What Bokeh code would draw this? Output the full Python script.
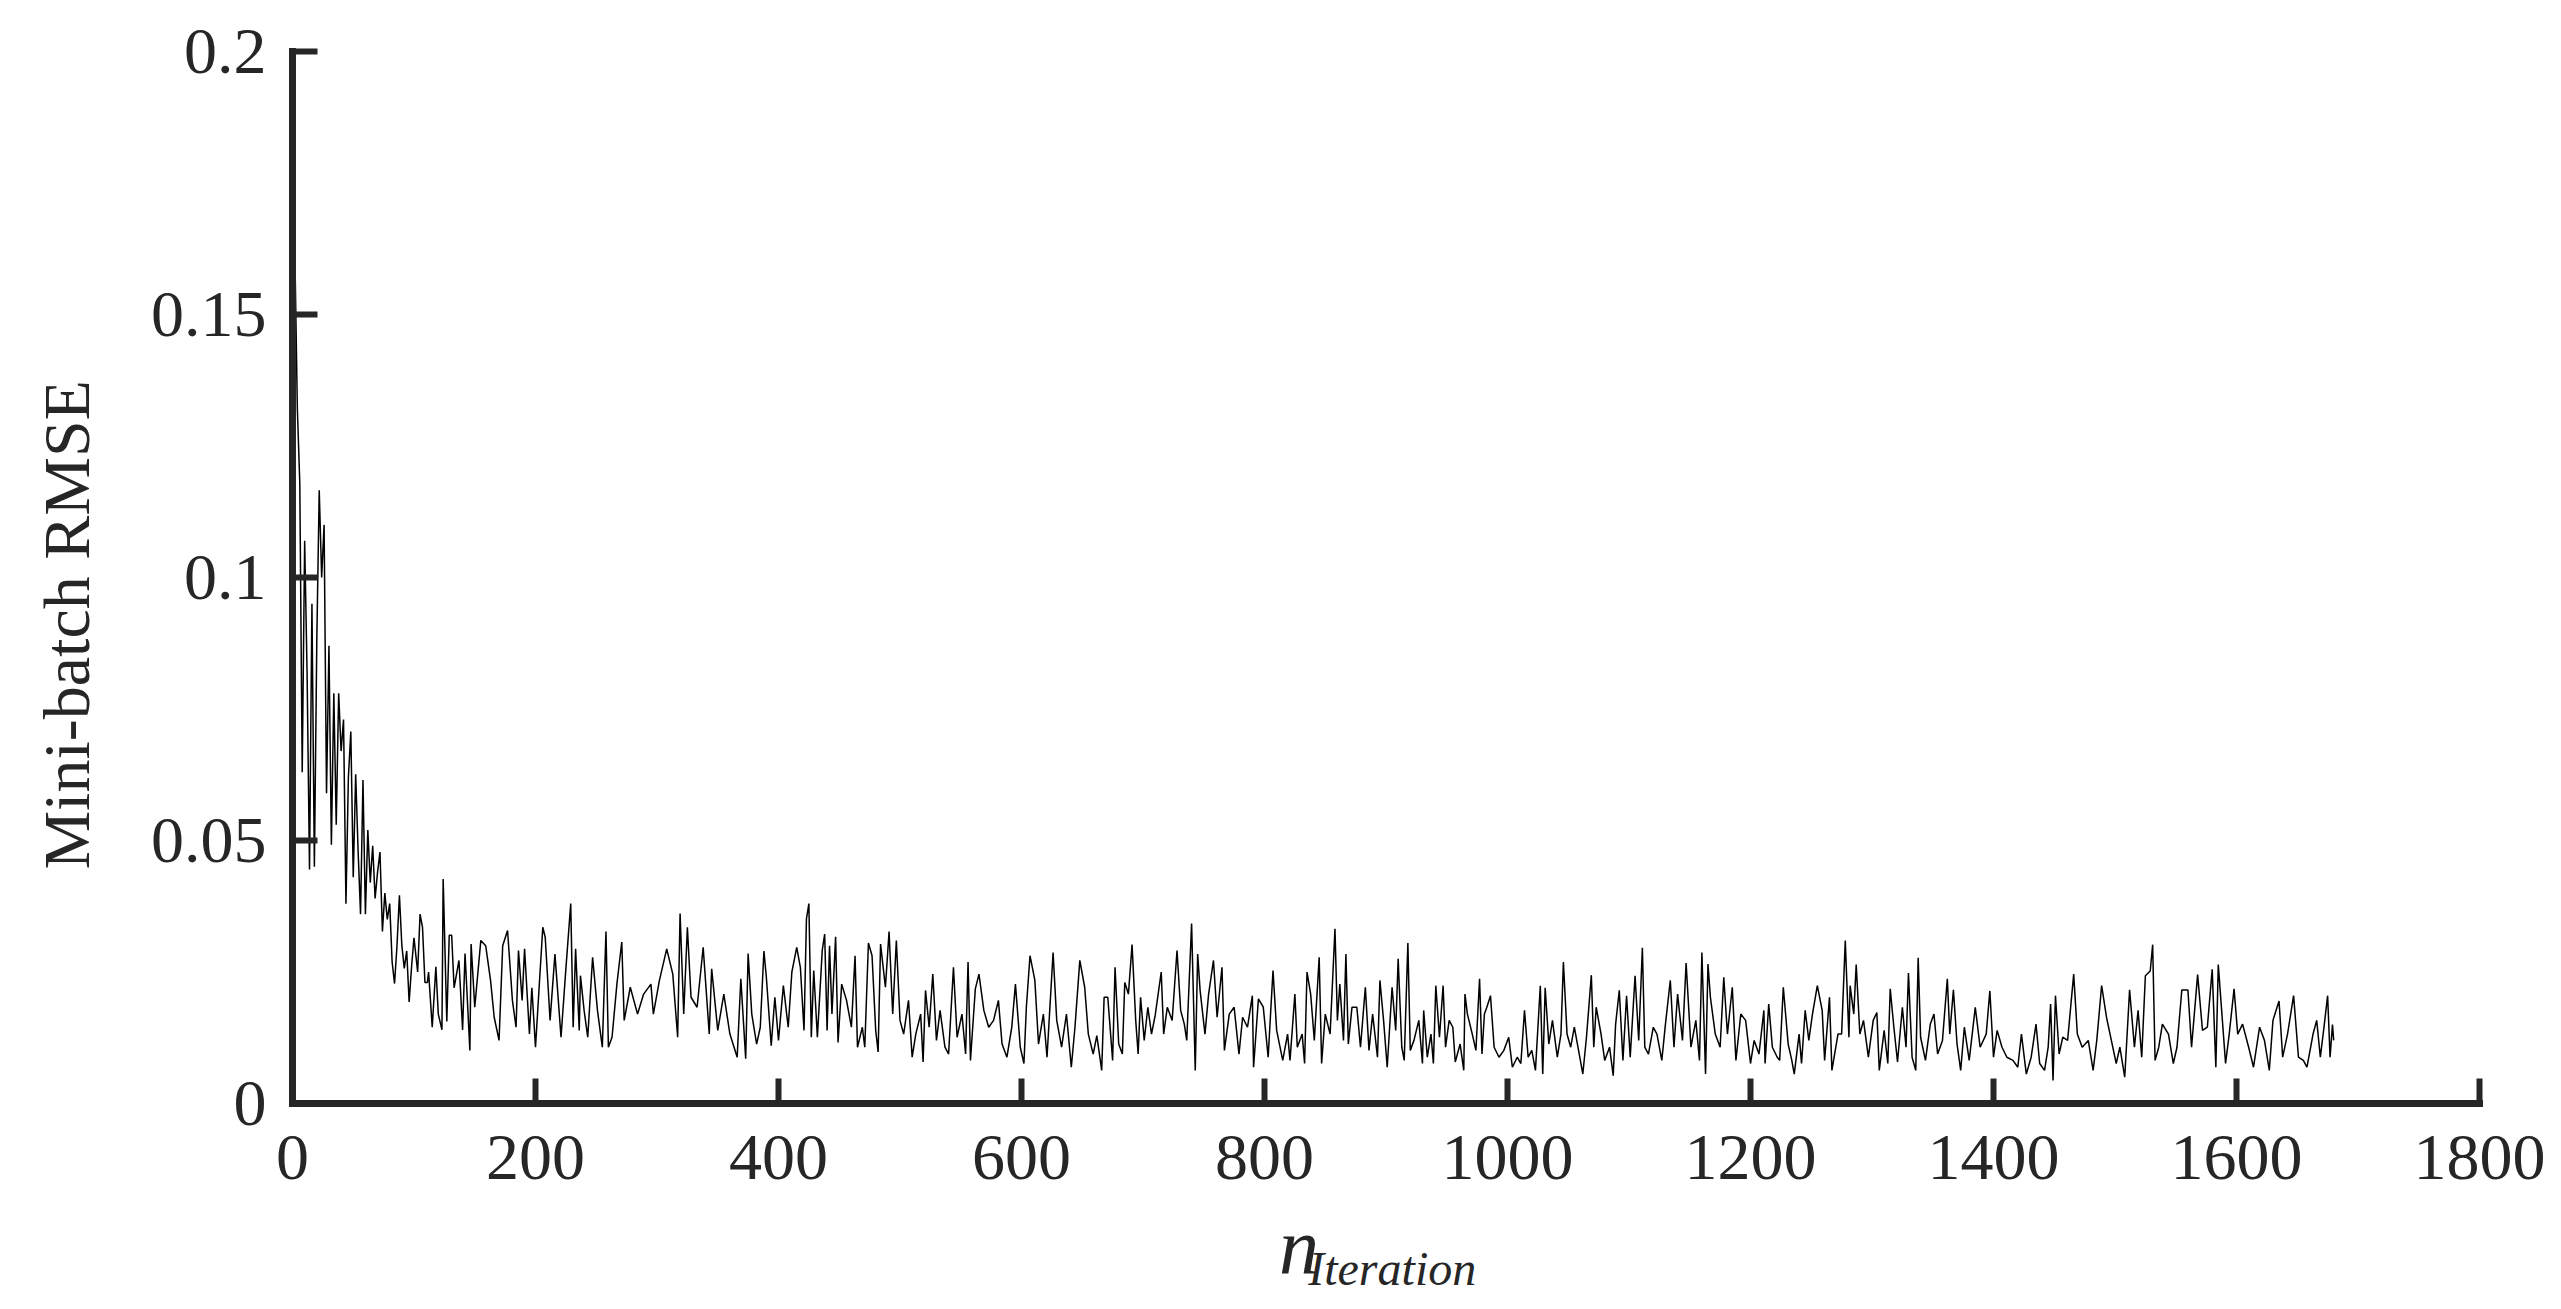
import math
from bokeh.plotting import figure
from bokeh.models import Range1d, FixedTicker, CustomJSTickFormatter, Label, ColumnDataSource
from bokeh.embed import file_html
from bokeh.resources import INLINE

# ---- data: mini-batch RMSE (values in units of 1e-4) ----
iter_a = [0, 2, 4, 6, 8, 10, 12, 14, 16, 18, 20, 22, 24, 26, 28, 30, 32, 34, 36, 38,
          40, 42, 44, 46, 48, 50, 52, 54, 56, 58, 60, 62, 64, 66, 68, 70, 72, 74, 76, 78,
          80, 82, 84, 86, 88, 90, 92, 94, 96, 98]
rmse_a = [1930, 1610, 1320, 1180, 630, 1070, 820, 445, 950, 450, 880, 1166, 1000, 1100, 590, 870, 492, 780, 530, 780,
          670, 730, 380, 620, 707, 430, 626, 480, 360, 615, 360, 520, 420, 490, 390, 440, 478, 327, 400, 350,
          380, 269, 228, 300, 396, 300, 257, 290, 193, 260]

iter_b = [100, 103, 105, 107, 109, 111, 112, 115, 118, 120, 123, 124, 127, 129, 131, 133, 137, 140, 142, 146,
          147, 150, 155, 159, 163, 166, 170, 173, 177, 181, 184, 186, 189, 191, 195, 197, 200, 206, 208, 212,
          216, 221, 225, 229, 231, 233, 236, 237, 240, 243, 247, 251, 255, 258, 260, 263, 267, 271, 273, 278,
          284, 289, 295, 297, 302, 308, 313, 317, 319, 322, 325, 328, 333, 338, 343, 345, 350, 355, 360, 366,
          369, 373, 375, 378, 382, 385]
rmse_b = [315, 250, 360, 335, 230, 230, 250, 145, 260, 170, 140, 427, 156, 320, 320, 220, 272, 140, 285, 101,
          303, 183, 310, 300, 234, 164, 120, 300, 329, 196, 145, 291, 196, 294, 132, 220, 107, 335, 316, 158,
          284, 126, 256, 380, 145, 294, 139, 243, 177, 126, 278, 177, 107, 327, 107, 126, 227, 307, 158, 221,
          170, 208, 227, 170, 234, 294, 246, 126, 361, 170, 335, 202, 183, 297, 132, 256, 139, 208, 132, 88,
          237, 85, 285, 170, 113, 145]

iter_c = [388, 390, 394, 397, 400, 404, 408, 411, 415, 418, 421, 423, 425, 427, 429, 432, 436, 438, 440, 442,
          444, 447, 449, 452, 456, 460, 463, 465, 469, 471, 474, 477, 480, 482, 484, 488, 491, 494, 497, 500,
          503, 507, 510, 513, 517, 519, 521, 524, 527, 530, 533, 537, 540, 544, 547, 551, 554, 556, 558, 562,
          565, 569, 573, 577, 581, 584, 588, 592, 595, 599, 602, 604, 607, 611, 614, 618, 621, 626, 629, 633,
          637, 641, 644, 648, 652, 655, 659, 662]
rmse_c = [290, 240, 110, 202, 120, 224, 145, 250, 297, 259, 139, 351, 380, 126, 253, 126, 291, 322, 139, 300,
          170, 317, 116, 227, 196, 145, 281, 107, 145, 107, 305, 281, 139, 98, 303, 221, 327, 170, 310, 158,
          132, 196, 88, 132, 170, 79, 215, 145, 246, 120, 177, 107, 94, 259, 126, 170, 94, 269, 82, 218,
          246, 177, 145, 158, 196, 113, 88, 145, 227, 107, 76, 183, 281, 234, 113, 170, 88, 287, 158, 107,
          170, 69, 145, 272, 221, 132, 94, 129]

iter_d = [666, 668, 671, 675, 677, 680, 683, 685, 688, 691, 694, 696, 698, 701, 704, 707, 710, 715, 717, 720,
          724, 728, 731, 734, 736, 740, 743, 745, 747, 751, 754, 758, 761, 765, 767, 771, 775, 779, 782, 786,
          790, 791, 795, 799, 803, 807, 810, 815, 819, 821, 825, 827, 831, 833, 835, 838, 841, 845, 847, 850,
          854, 858, 860, 862, 865, 867, 869, 872, 876, 879, 883, 886, 889, 893, 895, 898, 901, 905, 908, 910,
          913, 915, 918, 920, 923, 927, 930, 931, 934, 937, 939, 941, 944]
rmse_d = [63, 202, 202, 82, 259, 113, 94, 230, 208, 302, 158, 94, 202, 120, 183, 132, 167, 250, 132, 183,
          158, 291, 177, 151, 120, 342, 63, 284, 215, 132, 208, 272, 164, 259, 101, 170, 183, 94, 164, 145,
          205, 69, 199, 183, 88, 253, 139, 82, 132, 82, 208, 107, 132, 76, 250, 208, 120, 278, 76, 170,
          132, 332, 158, 227, 120, 284, 113, 183, 183, 107, 221, 101, 170, 88, 234, 158, 69, 221, 139, 275,
          107, 82, 305, 101, 120, 158, 76, 177, 88, 132, 76, 224, 126]

iter_e = [947, 949, 952, 955, 957, 961, 964, 965, 967, 971, 974, 977, 979, 981, 983, 986, 989, 993, 997, 1001,
          1004, 1008, 1011, 1014, 1017, 1020, 1023, 1027, 1029, 1031, 1034, 1037, 1041, 1044, 1046, 1049, 1052, 1055, 1058, 1062,
          1065, 1069, 1071, 1073, 1077, 1080, 1084, 1087, 1089, 1092, 1095, 1098, 1101, 1105, 1108, 1111, 1113, 1116, 1120, 1123,
          1127, 1130, 1134, 1137, 1140, 1144, 1147, 1151, 1155, 1158, 1160, 1163, 1165, 1167, 1171, 1175, 1178, 1181, 1185, 1188,
          1192, 1196, 1200, 1203, 1207, 1211, 1212, 1215, 1218, 1222, 1224]
rmse_e = [224, 107, 158, 145, 79, 113, 63, 208, 170, 132, 101, 237, 94, 170, 183, 205, 107, 88, 101, 126,
          69, 88, 76, 177, 88, 101, 63, 224, 56, 220, 113, 158, 88, 132, 269, 132, 107, 145, 107, 56,
          126, 244, 107, 183, 132, 82, 107, 53, 151, 215, 82, 205, 88, 243, 120, 296, 107, 94, 145, 132,
          82, 151, 234, 107, 208, 120, 267, 107, 158, 82, 287, 56, 265, 202, 132, 107, 240, 132, 221, 82,
          170, 158, 76, 120, 94, 177, 76, 189, 107, 88, 82]

iter_f = [1227, 1231, 1234, 1236, 1240, 1242, 1245, 1248, 1251, 1255, 1259, 1261, 1265, 1267, 1272, 1275, 1278, 1281, 1282, 1285,
          1287, 1290, 1293, 1297, 1301, 1304, 1306, 1310, 1313, 1315, 1318, 1321, 1325, 1328, 1330, 1333, 1336, 1338, 1340, 1344,
          1348, 1351, 1354, 1358, 1362, 1364, 1367, 1370, 1373, 1376, 1380, 1385, 1389, 1394, 1397, 1400, 1403, 1407, 1411, 1416,
          1420, 1423, 1427, 1431, 1435, 1438, 1442, 1445, 1447, 1449, 1451, 1454, 1457, 1461, 1466, 1469, 1473, 1478, 1482, 1485,
          1489, 1493, 1497, 1501, 1504, 1508, 1510, 1512, 1516, 1519, 1522, 1525, 1529, 1531, 1533, 1536, 1539, 1544, 1548, 1551,
          1555, 1560, 1563, 1568, 1572, 1576, 1580, 1583, 1585, 1588, 1591, 1594, 1598, 1601, 1605, 1610, 1614, 1619, 1623, 1627,
          1630, 1635, 1638, 1642, 1647, 1651, 1655, 1658, 1663, 1666, 1669, 1672, 1675, 1677, 1679, 1680]
rmse_f = [221, 113, 82, 56, 132, 76, 177, 120, 170, 224, 177, 82, 202, 63, 132, 132, 310, 126, 224, 170,
          264, 132, 158, 88, 158, 173, 63, 139, 76, 218, 145, 79, 183, 107, 248, 88, 63, 277, 126, 82,
          151, 170, 94, 120, 237, 132, 216, 113, 63, 145, 82, 183, 107, 132, 214, 88, 139, 107, 88, 82,
          69, 132, 56, 88, 151, 76, 63, 107, 189, 44, 205, 94, 126, 120, 246, 132, 107, 120, 63, 120,
          224, 164, 120, 76, 107, 50, 132, 216, 107, 177, 88, 243, 252, 302, 82, 107, 151, 132, 76, 107,
          216, 216, 107, 245, 139, 145, 255, 69, 264, 170, 76, 132, 218, 132, 151, 107, 69, 145, 120, 63,
          158, 195, 88, 132, 205, 88, 82, 69, 132, 158, 88, 145, 205, 88, 150, 120]

x_ticks = [0, 200, 400, 600, 800, 1000, 1200, 1400, 1600, 1800]
y_ticks = [0, 0.05, 0.1, 0.15, 0.2]
y_tick_labels = ["0", "0.05", "0.1", "0.15", "0.2"]
y_title = "Mini-batch RMSE"
x_title_main = "n"
x_title_sub = "Iteration"

iterations = iter_a + iter_b + iter_c + iter_d + iter_e + iter_f
rmse = [v / 10000 for v in (rmse_a + rmse_b + rmse_c + rmse_d + rmse_e + rmse_f)]

src = ColumnDataSource(data=dict(x=iterations, y=rmse))

AX = "#262626"
FONT = "Liberation Serif"

W, H = 2556, 1304
# frame spans the whole canvas; axes are pinned at the data origin
# pixel mapping: x 0 -> 292 px, 1800 -> 2479 px ; y 0.2 -> 51 px, 0 -> 1103 px
px_per_x = 2187 / 1800.0
px_per_y = 1052 / 0.2
x0 = -292 / px_per_x
x1 = (W - 292) / px_per_x
y1 = 0.2 + 51 / px_per_y
y0 = -(H - 1103) / px_per_y

p = figure(width=W, height=H, output_backend="svg", toolbar_location=None,
           x_range=Range1d(x0, x1), y_range=Range1d(y0, y1), min_border=0)
p.outline_line_color = None
p.xgrid.visible = False
p.ygrid.visible = False
p.background_fill_color = "white"
p.border_fill_color = "white"

p.line("x", "y", source=src, line_color="black", line_width=1.5)

p.xaxis.ticker = FixedTicker(ticks=x_ticks)
p.yaxis.ticker = FixedTicker(ticks=y_ticks)
p.yaxis.formatter = CustomJSTickFormatter(
    args=dict(yt=y_ticks, yl=y_tick_labels),
    code="""
    for (let i = 0; i < yt.length; i++) {
        if (Math.abs(yt[i] - tick) < 1e-9) { return yl[i]; }
    }
    return String(tick);
    """)
p.xaxis.fixed_location = 0
p.yaxis.fixed_location = 0
p.xaxis.bounds = (x_ticks[0], x_ticks[-1])
p.yaxis.bounds = (y_ticks[0], y_ticks[-1])

for ax in p.axis:
    ax.axis_line_width = 7
    ax.axis_line_color = AX
    ax.axis_line_cap = "square"
    ax.major_tick_line_width = 6
    ax.major_tick_line_color = AX
    ax.major_tick_in = 25
    ax.major_tick_out = 0
    ax.minor_tick_line_color = None
    ax.major_label_text_font = FONT
    ax.major_label_text_font_size = "66px"
    ax.major_label_text_color = AX

p.xaxis.major_label_standoff = 32
p.yaxis.major_label_standoff = 26

ylab = Label(x=-186, y=0.091, text=y_title, angle=math.pi / 2,
             text_font=FONT, text_font_size="66px", text_color=AX,
             text_align="center", text_baseline="middle")
p.add_layout(ylab)

nlab = Label(x=812, y=-0.0270, text=x_title_main, text_font=FONT, text_font_style="italic",
             text_font_size="80px", text_color=AX, text_align="left", text_baseline="alphabetic")
p.add_layout(nlab)
slab = Label(x=836, y=-0.0313, text=x_title_sub, text_font=FONT, text_font_style="italic",
             text_font_size="48px", text_color=AX, text_align="left", text_baseline="alphabetic")
p.add_layout(slab)

open("out.html", "w").write(file_html(p, INLINE))
